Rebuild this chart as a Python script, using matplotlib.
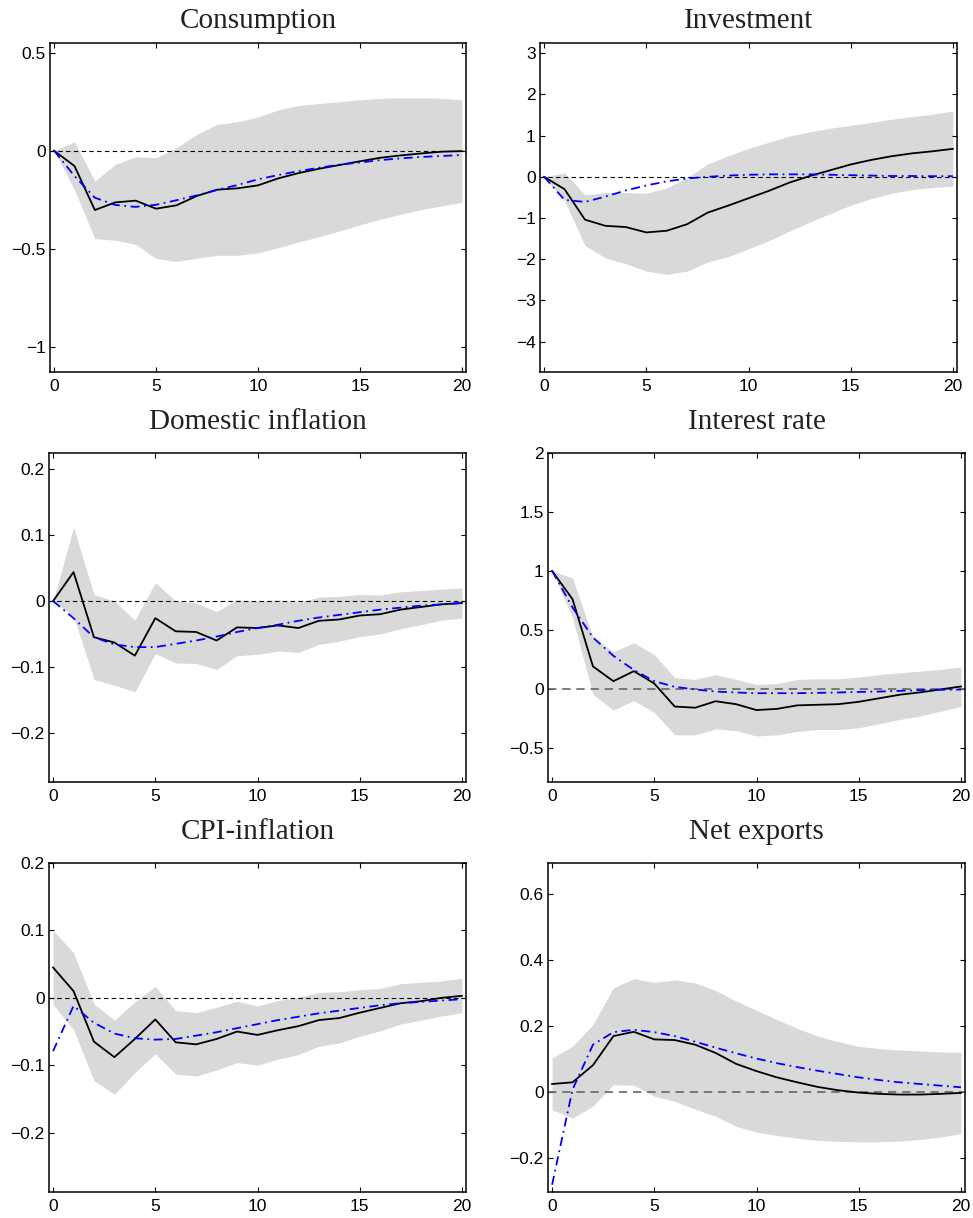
import matplotlib
matplotlib.use('Agg')
import matplotlib.pyplot as plt
from matplotlib.ticker import FuncFormatter
import numpy as np

plt.rcParams['font.family'] = ['Liberation Sans', 'DejaVu Sans']

h = np.arange(21)

titles = ['Consumption', 'Investment', 'Domestic inflation',
          'Interest rate', 'CPI-inflation', 'Net exports']

# median response (black), model response (blue), band limits (grey)
cons_med = [0, -0.078, -0.303, -0.264, -0.255, -0.296, -0.279, -0.231, -0.199, -0.192, -0.177,
            -0.141, -0.114, -0.092, -0.073, -0.054, -0.036, -0.024, -0.014, -0.005, -0.002]
cons_mod = [0, -0.129, -0.24, -0.277, -0.287, -0.276, -0.253, -0.228, -0.2, -0.175, -0.146,
            -0.124, -0.104, -0.087, -0.071, -0.06, -0.048, -0.039, -0.032, -0.027, -0.022]
cons_hi = [0, 0.046, -0.155, -0.07, -0.031, -0.036, 0.015, 0.083, 0.134, 0.148, 0.172,
           0.209, 0.231, 0.241, 0.25, 0.26, 0.267, 0.27, 0.27, 0.267, 0.26]
cons_lo = [0, -0.2, -0.449, -0.457, -0.478, -0.551, -0.565, -0.549, -0.534, -0.534, -0.522,
           -0.495, -0.466, -0.439, -0.41, -0.379, -0.35, -0.325, -0.301, -0.282, -0.264]

inv_med = [0, -0.3, -1.04, -1.19, -1.22, -1.35, -1.31, -1.15, -0.87, -0.70, -0.52,
           -0.34, -0.14, 0.02, 0.16, 0.3, 0.41, 0.5, 0.57, 0.62, 0.68]
inv_mod = [0, -0.56, -0.61, -0.48, -0.33, -0.21, -0.11, -0.04, 0.0, 0.03, 0.05,
           0.06, 0.06, 0.06, 0.05, 0.04, 0.03, 0.02, 0.02, 0.015, 0.015]
inv_hi = [0, 0.1, -0.44, -0.38, -0.38, -0.4, -0.27, -0.02, 0.31, 0.51, 0.69,
          0.84, 0.99, 1.09, 1.18, 1.25, 1.32, 1.4, 1.46, 1.52, 1.6]
inv_lo = [0, -0.58, -1.67, -1.97, -2.11, -2.29, -2.37, -2.29, -2.07, -1.94, -1.75,
          -1.55, -1.32, -1.1, -0.89, -0.69, -0.53, -0.4, -0.31, -0.26, -0.23]

dinf_med = [0, 0.044, -0.055, -0.063, -0.083, -0.026, -0.046, -0.047, -0.06, -0.04, -0.041,
            -0.037, -0.041, -0.03, -0.028, -0.022, -0.02, -0.013, -0.009, -0.005, -0.003]
dinf_mod = [0, -0.026, -0.055, -0.066, -0.07, -0.07, -0.065, -0.06, -0.054, -0.047, -0.041,
            -0.036, -0.03, -0.025, -0.021, -0.017, -0.013, -0.01, -0.007, -0.005, -0.003]
dinf_hi = [0, 0.112, 0.01, 0.0, -0.029, 0.028, 0.0, -0.003, -0.016, 0.002, 0.0,
           0.002, -0.002, 0.006, 0.007, 0.01, 0.009, 0.014, 0.016, 0.018, 0.02]
dinf_lo = [0, -0.023, -0.119, -0.128, -0.138, -0.08, -0.094, -0.095, -0.104, -0.083, -0.081,
           -0.076, -0.078, -0.066, -0.061, -0.054, -0.05, -0.042, -0.036, -0.029, -0.026]

rate_med = [1.0, 0.76, 0.19, 0.065, 0.15, 0.045, -0.15, -0.16, -0.105, -0.13, -0.18,
            -0.17, -0.14, -0.135, -0.13, -0.11, -0.08, -0.05, -0.03, -0.005, 0.02]
rate_mod = [1.0, 0.69, 0.435, 0.28, 0.16, 0.065, 0.017, -0.005, -0.023, -0.031, -0.037,
            -0.037, -0.037, -0.034, -0.031, -0.026, -0.023, -0.017, -0.011, -0.008, -0.006]
rate_hi = [1.0, 0.94, 0.435, 0.315, 0.39, 0.29, 0.094, 0.08, 0.12, 0.08, 0.037,
           0.045, 0.08, 0.085, 0.085, 0.1, 0.12, 0.136, 0.15, 0.165, 0.185]
rate_lo = [1.0, 0.6, -0.048, -0.18, -0.1, -0.2, -0.39, -0.39, -0.34, -0.355, -0.4,
           -0.39, -0.36, -0.345, -0.345, -0.33, -0.295, -0.26, -0.23, -0.19, -0.15]

cpi_med = [0.045, 0.01, -0.065, -0.088, -0.061, -0.032, -0.066, -0.069, -0.061, -0.05, -0.055,
           -0.048, -0.042, -0.033, -0.03, -0.022, -0.015, -0.008, -0.005, 0.0, 0.003]
cpi_mod = [-0.079, -0.012, -0.037, -0.053, -0.06, -0.062, -0.061, -0.056, -0.051, -0.045, -0.039,
           -0.033, -0.028, -0.023, -0.019, -0.015, -0.011, -0.008, -0.006, -0.004, -0.002]
cpi_hi = [0.1, 0.067, -0.009, -0.033, -0.006, 0.017, -0.019, -0.022, -0.014, -0.005, -0.012,
          -0.004, 0.001, 0.008, 0.009, 0.012, 0.014, 0.021, 0.023, 0.025, 0.029]
cpi_lo = [-0.01, -0.047, -0.123, -0.143, -0.111, -0.083, -0.113, -0.116, -0.107, -0.096, -0.1,
          -0.091, -0.084, -0.072, -0.067, -0.057, -0.049, -0.039, -0.033, -0.027, -0.022]

nx_med = [0.025, 0.03, 0.082, 0.17, 0.183, 0.16, 0.158, 0.144, 0.119, 0.086, 0.064,
          0.045, 0.03, 0.016, 0.006, -0.001, -0.005, -0.007, -0.007, -0.005, -0.002]
nx_mod = [-0.28, 0.008, 0.144, 0.182, 0.189, 0.182, 0.17, 0.153, 0.135, 0.118, 0.102,
          0.088, 0.076, 0.065, 0.055, 0.045, 0.037, 0.03, 0.025, 0.02, 0.015]
nx_hi = [0.104, 0.139, 0.205, 0.316, 0.344, 0.333, 0.34, 0.331, 0.308, 0.276, 0.248,
         0.22, 0.193, 0.17, 0.153, 0.139, 0.132, 0.128, 0.125, 0.122, 0.121]
nx_lo = [-0.053, -0.078, -0.042, 0.023, 0.021, -0.012, -0.028, -0.051, -0.073, -0.103, -0.121,
         -0.131, -0.139, -0.146, -0.149, -0.15, -0.15, -0.148, -0.143, -0.136, -0.125]

meds = [cons_med, inv_med, dinf_med, rate_med, cpi_med, nx_med]
mods = [cons_mod, inv_mod, dinf_mod, rate_mod, cpi_mod, nx_mod]
his = [cons_hi, inv_hi, dinf_hi, rate_hi, cpi_hi, nx_hi]
los = [cons_lo, inv_lo, dinf_lo, rate_lo, cpi_lo, nx_lo]

yticks = [[-1, -0.5, 0, 0.5], [-4, -3, -2, -1, 0, 1, 2, 3],
          [-0.2, -0.1, 0, 0.1, 0.2], [-0.5, 0, 0.5, 1, 1.5, 2],
          [-0.2, -0.1, 0, 0.1, 0.2], [-0.2, 0, 0.2, 0.4, 0.6]]
ylims = [(-1.13, 0.55), (-4.74, 3.25), (-0.275, 0.225),
         (-0.79, 2.0), (-0.288, 0.2), (-0.302, 0.694)]

# axes boxes in pixels: left, top, right, bottom
W, H = 973, 1218
boxes = [(50, 43, 466, 372), (540, 43, 957, 372),
         (49, 453, 466, 782), (548, 453, 965, 782),
         (49, 863, 466, 1192), (548, 863, 965, 1192)]
title_pad = [11, 11, 17, 17, 17, 17]

fmt = FuncFormatter(lambda v, p: ('%g' % v).replace('-', '\u2212'))

fig = plt.figure(figsize=(W / 100, H / 100), dpi=100)

for i in range(6):
    l, t, r, b = boxes[i]
    ax = fig.add_axes([l / W, 1 - b / H, (r - l) / W, (b - t) / H])
    ax.fill_between(h, los[i], his[i], color='#d9d9d9', lw=0)
    if i in (3, 5):
        ax.axhline(0, color='#666666', lw=1.2, dashes=(5, 3.5))
    else:
        ax.axhline(0, color='black', lw=0.8, dashes=(4, 3))
    ax.plot(h, meds[i], color='black', lw=1.3)
    ax.plot(h, mods[i], color='blue', lw=1.3, dashes=(5, 2.5, 1, 2.5))
    ax.set_xlim(-0.2, 20.2)
    ax.set_ylim(*ylims[i])
    ax.set_xticks([0, 5, 10, 15, 20])
    ax.set_yticks(yticks[i])
    ax.yaxis.set_major_formatter(fmt)
    ax.tick_params(direction='in', top=True, right=True, length=3.5, width=0.8,
                   labelsize=12.5, colors='black')
    ax.tick_params(axis='x', pad=5)
    ax.tick_params(axis='y', pad=3)
    for s in ax.spines.values():
        s.set_linewidth(1.1)
    ax.set_title(titles[i], fontsize=21, family=['Liberation Serif', 'DejaVu Serif'],
                 pad=title_pad[i], color='#222222')

fig.savefig('out.png', dpi=100)
